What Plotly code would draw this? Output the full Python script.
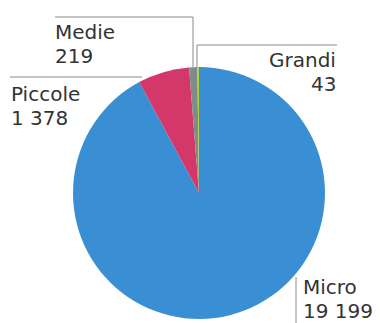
import plotly.graph_objects as go

categories = ["Micro", "Piccole", "Medie", "Grandi"]
values = [19199, 1378, 219, 43]
colors = ["#3a8fd4", "#d4386a", "#7f8c8a", "#b5cc3a"]

W, H = 380, 323

def fmt(v):
    return f"{v:,}".replace(",", " ")

def px(x):
    return x / W

def py(y):
    return 1 - y / H

cx, cy, r = 199, 193, 126

fig = go.Figure(go.Pie(
    labels=categories, values=values, sort=False, direction="clockwise",
    rotation=0, textinfo="none", hoverinfo="label+value",
    marker=dict(colors=colors, line=dict(width=0)),
    domain=dict(x=[px(cx - r), px(cx + r)], y=[py(cy + r), py(cy - r)]),
    showlegend=False,
))

line = dict(color="#8a8a8a", width=1)
shapes = [
    dict(type="path", path=f"M {px(55)} {py(17)} L {px(193)} {py(17)} L {px(193)} {py(67)}"),
    dict(type="path", path=f"M {px(337)} {py(45)} L {px(197)} {py(45)} L {px(197)} {py(67)}"),
    dict(type="path", path=f"M {px(10)} {py(77)} L {px(142)} {py(77)}"),
    dict(type="path", path=f"M {px(296)} {py(277)} L {px(296)} {py(323)}"),
]
for s in shapes:
    s.update(xref="paper", yref="paper", line=line)

font = dict(family="DejaVu Sans, sans-serif", size=20, color="#333333")
# (x, y of first-line baseline, anchor)
label_pos = {
    "Medie": (54, 40, "left"),
    "Piccole": (10, 102, "left"),
    "Grandi": (337, 68, "right"),
    "Micro": (302, 295, "left"),
}
annotations = []
for cat, v in zip(categories, values):
    x, y, anchor = label_pos[cat]
    for i, t in enumerate([cat, fmt(v)]):
        annotations.append(dict(
            text=t, x=px(x), y=py(y + i * 24 + 5), xref="paper", yref="paper",
            xanchor=anchor, yanchor="bottom", align=anchor, showarrow=False, font=font,
            borderpad=0,
        ))

fig.update_layout(
    width=W, height=H, margin=dict(l=0, r=0, t=0, b=0),
    paper_bgcolor="white", plot_bgcolor="white",
    shapes=shapes, annotations=annotations,
)
fig.write_html("out.html", config={"displayModeBar": False},
               post_script="document.body.style.margin='0';")
